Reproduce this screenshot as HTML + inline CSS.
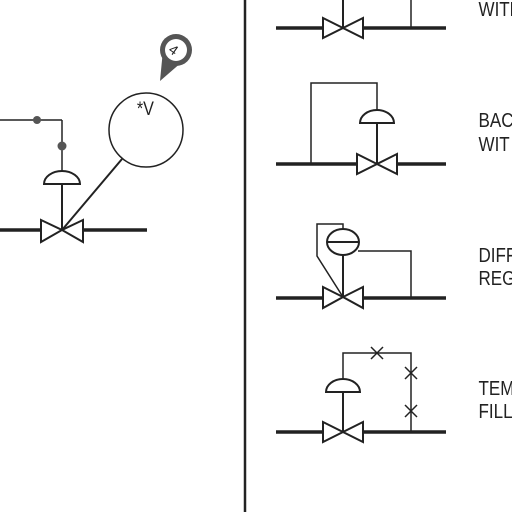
<!DOCTYPE html>
<html><head><style>
html,body{margin:0;padding:0;background:#fff;width:512px;height:512px;overflow:hidden}
svg{display:block}
text{font-family:"Liberation Sans",sans-serif;font-size:20px;fill:#222}
</style></head><body>
<svg width="512" height="512" viewBox="0 0 512 512" stroke="#222" fill="none" stroke-width="2">
<g><line x1="245" y1="0" x2="245" y2="512" stroke-width="2.5"/></g>

<g>
 <line x1="0" y1="230" x2="41" y2="230" stroke-width="3.5"/>
 <line x1="83" y1="230" x2="147" y2="230" stroke-width="3.5"/>
 <polygon points="41,220 62,230 41,242" fill="#fff"/>
 <polygon points="83,220 62,230 83,242" fill="#fff"/>
 <line x1="62" y1="230" x2="62" y2="184"/>
 <path d="M44,184 A18,13 0 0 1 80,184 Z" fill="#fff"/>
 <line x1="62" y1="171" x2="62" y2="120" stroke-width="1.5"/>
 <line x1="0" y1="120" x2="62" y2="120" stroke-width="1.5"/>
 <circle cx="37" cy="120" r="4" fill="#555" stroke="none"/>
 <circle cx="62" cy="146" r="4.5" fill="#555" stroke="none"/>
 <line x1="62" y1="230" x2="122" y2="159" stroke-width="2"/>
 <circle cx="146" cy="130" r="37" fill="#fff" stroke-width="1.5"/>
 <text x="137" y="115" stroke="none" transform="scale(0.85 1) translate(24 0)" style="font-size:19px">*V</text>
 <g>
  <polygon points="160,81 163.6,43.6 188.4,56.4" fill="#555" stroke="none"/>
  <circle cx="176" cy="50" r="16" fill="#555" stroke="none"/>
  <circle cx="176" cy="50" r="11" fill="#fff" stroke="none"/>
  <text x="170" y="56" stroke="none" style="font-size:14px" transform="rotate(35 176 50)">4</text>
 </g>
</g>

<g>
 <line x1="276" y1="28" x2="323" y2="28" stroke-width="3.5"/>
 <line x1="363" y1="28" x2="446" y2="28" stroke-width="3.5"/>
 <polygon points="323,18 343,28 323,38" fill="#fff"/>
 <polygon points="363,18 343,28 363,38" fill="#fff"/>
 <line x1="343" y1="0" x2="343" y2="28"/>
 <line x1="411" y1="0" x2="411" y2="28" stroke-width="1.5"/>
 <text x="563" y="16" stroke="none" transform="scale(0.85 1)">WITH</text>
</g>

<g>
 <line x1="276" y1="164" x2="357" y2="164" stroke-width="3.5"/>
 <line x1="397" y1="164" x2="446" y2="164" stroke-width="3.5"/>
 <polygon points="357,154 377,164 357,174" fill="#fff"/>
 <polygon points="397,154 377,164 397,174" fill="#fff"/>
 <line x1="377" y1="164" x2="377" y2="123"/>
 <path d="M360,123 A17,13 0 0 1 394,123 Z" fill="#fff"/>
 <polyline points="377,110 377,83 311,83 311,164" stroke-width="1.5"/>
 <text x="563" y="127" stroke="none" transform="scale(0.85 1)">BAC</text>
 <text x="563" y="151" stroke="none" transform="scale(0.85 1)">WIT</text>
</g>

<g>
 <line x1="276" y1="298" x2="323" y2="298" stroke-width="3.5"/>
 <line x1="363" y1="298" x2="446" y2="298" stroke-width="3.5"/>
 <polygon points="323,287 343,297 323,308" fill="#fff"/>
 <polygon points="363,287 343,297 363,308" fill="#fff"/>
 <line x1="343" y1="297" x2="343" y2="255"/>
 <polyline points="343,229 343,224 317,224 317,256 343,297" stroke-width="1.5"/>
 <ellipse cx="343" cy="242" rx="16" ry="13" fill="#fff"/>
 <line x1="327" y1="242" x2="359" y2="242"/>
 <polyline points="358,251 411,251 411,298" stroke-width="1.5"/>
 <text x="563" y="262" stroke="none" transform="scale(0.85 1)">DIFF</text>
 <text x="563" y="285" stroke="none" transform="scale(0.85 1)">REG</text>
</g>

<g>
 <line x1="276" y1="432" x2="323" y2="432" stroke-width="3.5"/>
 <line x1="363" y1="432" x2="446" y2="432" stroke-width="3.5"/>
 <polygon points="323,422 343,432 323,442" fill="#fff"/>
 <polygon points="363,422 343,432 363,442" fill="#fff"/>
 <line x1="343" y1="432" x2="343" y2="392"/>
 <path d="M326,392 A17,13 0 0 1 360,392 Z" fill="#fff"/>
 <polyline points="343,379 343,353 411,353 411,432" stroke-width="1.5"/>
 <path d="M371,347 L383,359 M383,347 L371,359 M405,367 L417,379 M417,367 L405,379 M405,405 L417,417 M417,405 L405,417" stroke-width="1.5"/>
 <text x="563" y="395" stroke="none" transform="scale(0.85 1)">TEM</text>
 <text x="563" y="418" stroke="none" transform="scale(0.85 1)">FILL</text>
</g>
</svg>
</body></html>
